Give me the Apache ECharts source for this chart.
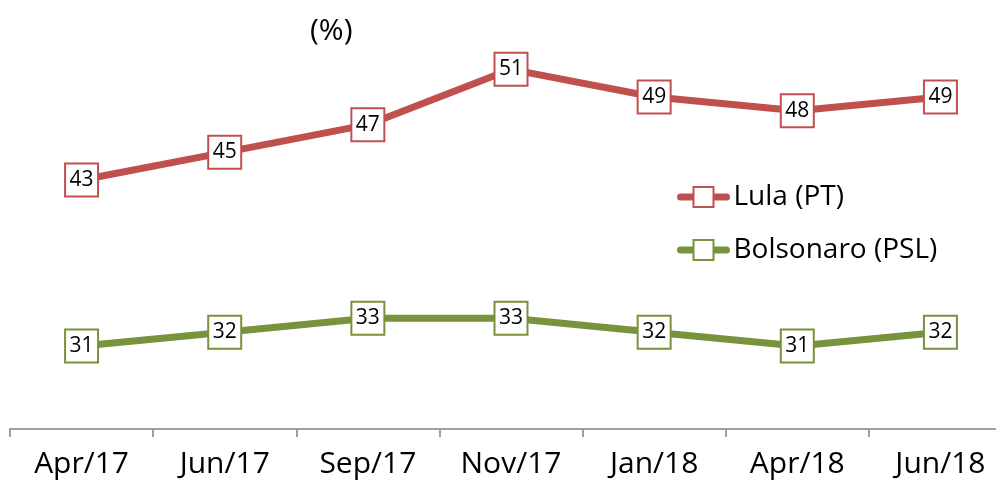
<!DOCTYPE html>
<html>
<head>
    <meta charset="utf-8">
    <title>Lula x Bolsonaro</title>
    <script src="https://cdn.jsdelivr.net/npm/echarts@6/dist/echarts.min.js"></script>
    <style>
        html, body { margin: 0; padding: 0; background: #fff; }
    </style>
</head>
<body>
    <div id="chart" style="width: 996px;height:484px;"></div>

    <script>
        // data
        const categories = ['Apr/17', 'Jun/17', 'Sep/17', 'Nov/17', 'Jan/18', 'Apr/18', 'Jun/18'];
        const lula = [43, 45, 47, 51, 49, 48, 49];
        const bolsonaro = [31, 32, 33, 33, 32, 31, 32];

        const font = '"Open Sans", sans-serif';
        const red = '#c0504d';
        const green = '#77933c';

        const myChart = echarts.init(document.getElementById('chart'));

        function makeSeries(name, values, color) {
            return {
                name: name,
                type: 'line',
                data: values,
                symbol: 'rect',
                symbolSize: 33,
                lineStyle: { color: color, width: 7 },
                itemStyle: { color: '#fff', borderColor: color, borderWidth: 2 },
                label: {
                    show: true,
                    position: 'inside',
                    color: '#000',
                    fontSize: 21,
                    fontFamily: font
                },
                emphasis: { disabled: true },
                animation: false
            };
        }

        const option = {
            title: {
                text: '(%)',
                left: 305,
                top: 11,
                textStyle: { fontFamily: font, fontSize: 30, fontWeight: 'normal', color: '#000' }
            },
            legend: {
                orient: 'vertical',
                left: 672,
                top: 178,
                itemWidth: 46,
                itemHeight: 25,
                itemGap: 25,
                lineStyle: { width: 7, cap: 'round' },
                textStyle: { fontFamily: font, fontSize: 28, color: '#000', padding: [0, 0, 0, 2] },
                data: ['Lula (PT)', 'Bolsonaro (PSL)']
            },
            // the axis runs past the right edge of the picture
            grid: { left: 10, right: -16, top: 14, bottom: 55, outerBoundsMode: 'none' },
            xAxis: {
                type: 'category',
                data: categories,
                boundaryGap: true,
                axisLine: { lineStyle: { color: '#a0a0a0', width: 2 } },
                axisTick: { show: true, length: 8, lineStyle: { color: '#a0a0a0', width: 2 } },
                axisLabel: { fontFamily: font, fontSize: 30, color: '#000', margin: 20, interval: 0 }
            },
            yAxis: {
                type: 'value',
                min: 25,
                max: 55,
                show: false
            },
            series: [
                makeSeries('Lula (PT)', lula, red),
                makeSeries('Bolsonaro (PSL)', bolsonaro, green)
            ]
        };

        myChart.setOption(option);
    </script>
</body>
</html>
